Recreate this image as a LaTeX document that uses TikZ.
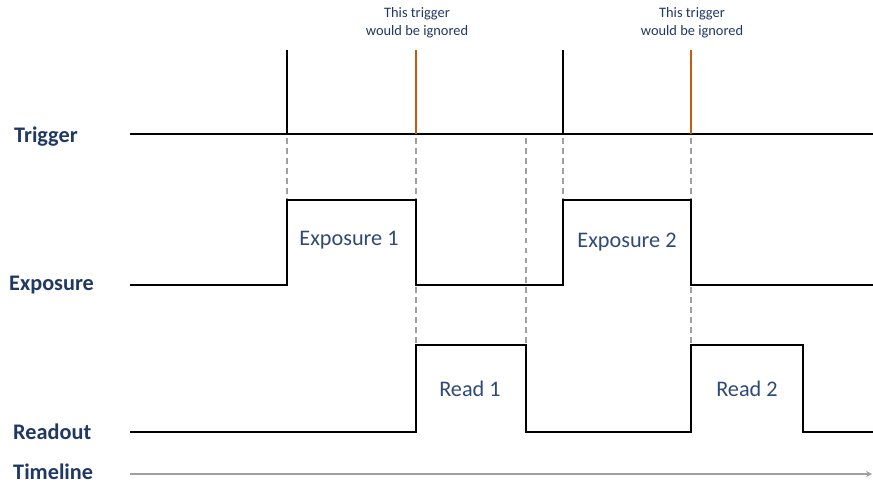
\documentclass[tikz,border=0pt]{standalone}
\usepackage{fontspec}
\setmainfont{Carlito}
\usetikzlibrary{arrows.meta}
\definecolor{navy}{HTML}{1F3864}
\definecolor{wavetxt}{HTML}{2F4A78}
\definecolor{ignore}{HTML}{C55A11}
\definecolor{guide}{HTML}{A0A0A0}
\tikzset{
	sig/.style={line width=1.3pt,black},
	guideline/.style={guide,line width=1.1pt,dash pattern=on 5pt off 3.5pt},
	rowlabel/.style={anchor=west,font=\fontsize{19}{22}\selectfont\bfseries,text=navy,inner sep=0pt},
	wavelabel/.style={font=\fontsize{19}{22}\selectfont,text=wavetxt},
	note/.style={font=\fontsize{12.3}{15}\selectfont,text=navy,align=center,inner sep=0pt}
}
\begin{document}
\begin{tikzpicture}[x=0.03cm,y=-0.03cm]
	\useasboundingbox (0,0) rectangle (873,484);
	
	%LABELS
	\node[rowlabel] (trig) at (14,137) {Trigger};
	\node[rowlabel] (expo) at (9,285) {Exposure};
	\node[rowlabel] (read) at (13,432) {Readout};
	\node[rowlabel] (time) at (13,472) {Timeline};
	
	%GUIDES
	\foreach \x/\y in {287/200,416/345,526/345,563/200,691/345}
	\draw[guideline] (\x,138)--(\x,\y);
	
	%TRIGGER
	\draw[sig] (130,134)--(873,134);
	\foreach \x in {287,563}
	\draw[sig] (\x,134)--(\x,50);
	\foreach \x in {416,691}
	\draw[ignore,line width=1.3pt] (\x,134)--(\x,50);
	
	%EXPOSURE
	\draw[sig] (130,285)--(287,285)--(287,200)--(416,200)--(416,285)--(563,285)--(563,200)--(691,200)--(691,285)--(873,285);
	
	%READOUT
	\draw[sig] (130,432)--(416,432)--(416,345)--(526,345)--(526,432)--(691,432)--(691,345)--(803,345)--(803,432)--(873,432);
	
	%TIMELINE
	\draw[guide,line width=1.2pt,-{Stealth[length=5pt,width=5pt]}] (130,474)--(872,474);
	
	%TEXTS
	\node[wavelabel] (exp1) at (349,240) {Exposure 1};
	\node[wavelabel] (exp2) at (627,242) {Exposure 2};
	\node[wavelabel] (rd1) at (470,389) {Read 1};
	\node[wavelabel] (rd2) at (747,389) {Read 2};
	\node[note] (ign1) at (417,23) {This trigger\\would be ignored};
	\node[note] (ign2) at (692,23) {This trigger\\would be ignored};
\end{tikzpicture}
\end{document}
